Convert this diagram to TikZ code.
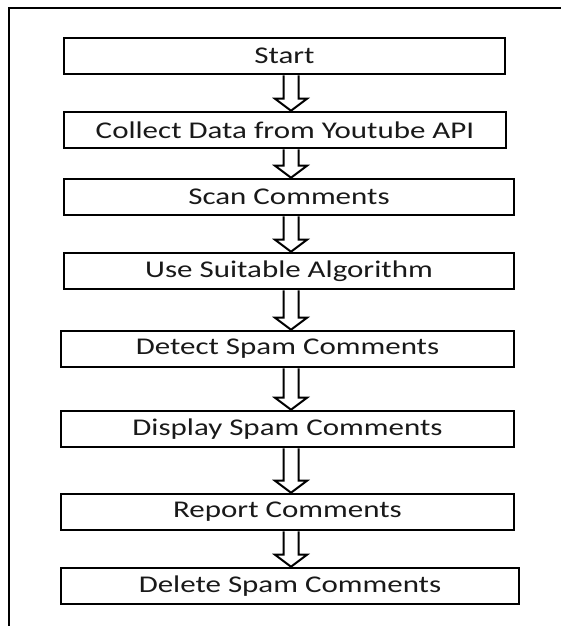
\documentclass[tikz,border=0pt]{standalone}
\usepackage{fontspec}
\setmainfont{Carlito}[FakeStretch=1.29]
\usepackage{tikz}
\usetikzlibrary{positioning}
\usetikzlibrary{calc}
\tikzset{stage/.style={draw,line width=1.3pt,minimum height=18pt,inner sep=0pt,font=\fontsize{12}{14}\selectfont,text=black!90},
	hollowarrow/.style={draw,line width=1pt,line join=miter},
	frameline/.style={line width=0.8pt}}

\begin{document}
\begin{tikzpicture}[x=1pt,y=1pt]
	\useasboundingbox (0,0) rectangle (280.5,-313);
	\draw[frameline] (4.5,-313) -- (4.5,-4) -- (280.5,-4);
	\coordinate (axis) at (145.5,0);
	
	\node[stage,minimum width=220.5] (start) at (142.25,-28) {Start};
	\node[stage,minimum width=221] (collect) at (142.5,-65) {Collect Data from Youtube API};
	\node[stage,minimum width=225] (scan) at (144.5,-98.5) {Scan Comments};
	\node[stage,minimum width=225] (algo) at (144.5,-135.5) {Use Suitable Algorithm};
	\node[stage,minimum width=226.5] (detect) at (143.75,-174.5) {Detect Spam Comments};
	\node[stage,minimum width=226.5] (display) at (143.75,-214.5) {Display Spam Comments};
	\node[stage,minimum width=226.5] (report) at (143.75,-256) {Report Comments};
	\node[stage,minimum width=229] (delete) at (145,-293) {Delete Spam Comments};
	\foreach \a/\b in {start/collect,collect/scan,scan/algo,algo/detect,detect/display,display/report,report/delete}
	\draw[hollowarrow] ($(\a.south -| axis)+(-3.75,0)$) -- ($(\b.north -| axis)+(-3.75,6)$) -- ++(-4.25,0) -- (\b.north -| axis) -- ++(8,6) -- ++(-4.25,0) -- ($(\a.south -| axis)+(3.75,0)$);
\end{tikzpicture}
\end{document}
